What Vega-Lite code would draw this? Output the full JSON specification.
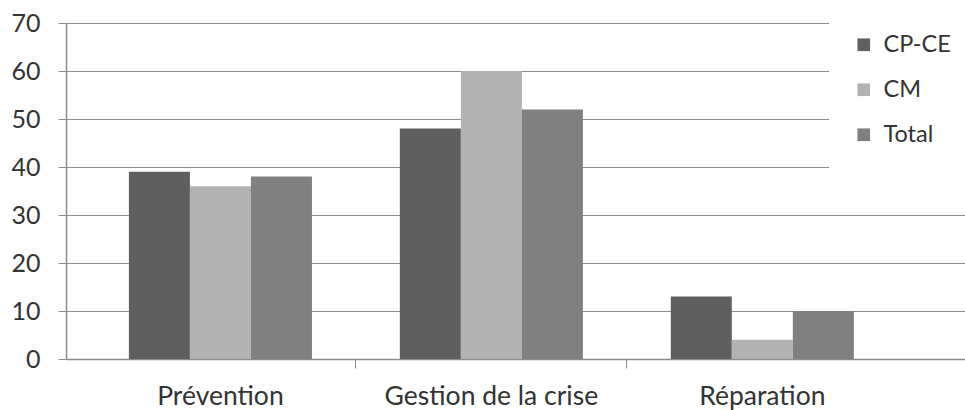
{
  "$schema": "https://vega.github.io/schema/vega-lite/v6.json",
  "width": 899,
  "height": 336,
  "autosize": "none",
  "padding": {"left": 66, "top": 23, "right": 0, "bottom": 51},
  "background": "white",
  "config": {
    "view": {"stroke": null},
    "font": "Lato"
  },
  "data": {
    "values": [
      {"categorie": "Prévention", "groupe": "CP-CE", "valeur": 39},
      {"categorie": "Prévention", "groupe": "CM", "valeur": 36},
      {"categorie": "Prévention", "groupe": "Total", "valeur": 38},
      {"categorie": "Gestion de la crise", "groupe": "CP-CE", "valeur": 48},
      {"categorie": "Gestion de la crise", "groupe": "CM", "valeur": 60},
      {"categorie": "Gestion de la crise", "groupe": "Total", "valeur": 52},
      {"categorie": "Réparation", "groupe": "CP-CE", "valeur": 13},
      {"categorie": "Réparation", "groupe": "CM", "valeur": 4},
      {"categorie": "Réparation", "groupe": "Total", "valeur": 10}
    ]
  },
  "mark": {"type": "bar", "strokeWidth": 0},
  "encoding": {
    "x": {
      "field": "categorie",
      "type": "nominal",
      "sort": ["Prévention", "Gestion de la crise", "Réparation"],
      "scale": {"paddingInner": 0, "paddingOuter": 0.159, "align": 0.22},
      "axis": {
        "title": null,
        "labelAngle": 0,
        "labelFont": "Lato",
        "labelFontSize": 26.5,
        "labelLimit": 0,
        "labelColor": "#333333",
        "labelPadding": 15,
        "domainColor": "#8c8c8c",
        "domainWidth": 1.5,
        "tickColor": "#8c8c8c",
        "tickSize": 9,
        "tickWidth": 1,
        "bandPosition": 0,
        "tickOpacity": {"condition": {"test": "datum.value === 'Prévention'", "value": 0}, "value": 1},
        "grid": false
      }
    },
    "xOffset": {
      "field": "groupe",
      "type": "nominal",
      "sort": ["CP-CE", "CM", "Total"],
      "scale": {"paddingInner": 0, "paddingOuter": 0.72}
    },
    "y": {
      "field": "valeur",
      "type": "quantitative",
      "scale": {"domain": [0, 70], "nice": false},
      "axis": {
        "title": null,
        "values": [0, 10, 20, 30, 40, 50, 60, 70],
        "labelFont": "Lato",
        "labelFontSize": 25,
        "labelColor": "#333333",
        "labelPadding": 18,
        "domainColor": "#8c8c8c",
        "domainWidth": 1.5,
        "tickColor": "#8c8c8c",
        "tickSize": 8,
        "gridColor": "#8c8c8c",
        "gridWidth": 1.2
      }
    },
    "color": {
      "field": "groupe",
      "type": "nominal",
      "scale": {"domain": ["CP-CE", "CM", "Total"], "range": ["#5f5f5f", "#b2b2b2", "#808080"]},
      "legend": {
        "title": null,
        "orient": "none",
        "legendX": 763,
        "legendY": -13,
        "padding": 23,
        "fillColor": "white",
        "symbolType": "square",
        "symbolSize": 160,
        "symbolStrokeWidth": 0,
        "symbolOpacity": 1,
        "labelFont": "Lato",
        "labelFontSize": 23.5,
        "labelColor": "#333333",
        "labelOffset": 8,
        "rowPadding": 20
      }
    }
  }
}
